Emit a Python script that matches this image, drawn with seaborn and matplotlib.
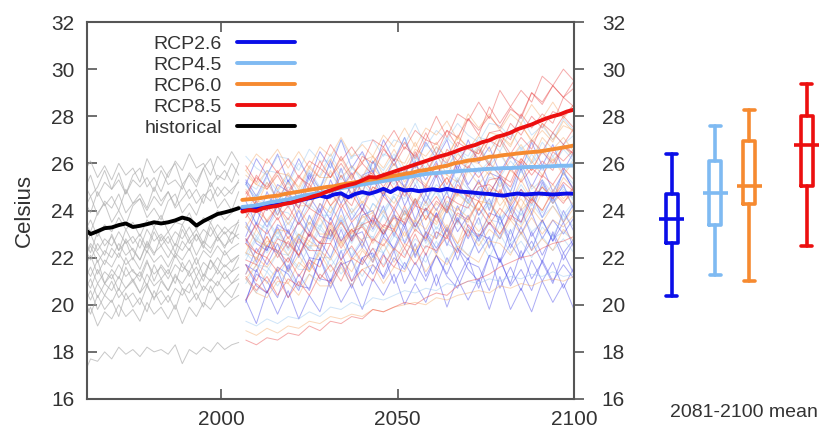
import matplotlib
matplotlib.use("Agg")
import matplotlib.pyplot as plt
from matplotlib.lines import Line2D
import pandas as pd
import seaborn as sns

# ---------------- data ----------------
hist_years = list(range(1961, 2006, 2))      # 23 points
future_years = list(range(2007, 2101, 3))    # 32 points
mean_years = list(range(2006, 2101, 2))      # 48 points

historical_mean = [23.25, 23.0, 23.12, 23.25, 23.28, 23.38, 23.45, 23.3, 23.35, 23.42,
                   23.5, 23.45, 23.5, 23.58, 23.7, 23.62, 23.36, 23.55, 23.7, 23.85,
                   23.92, 24.0, 24.1]

rcp26_mean = [24.07, 24.1, 24.12, 24.18, 24.2, 24.25, 24.3, 24.35, 24.42, 24.49,
              24.55, 24.63, 24.56, 24.68, 24.73, 24.56, 24.7, 24.78, 24.71, 24.8,
              24.92, 24.78, 24.95, 24.85, 24.88, 24.82, 24.86, 24.9, 24.85, 24.92,
              24.85, 24.8, 24.78, 24.75, 24.72, 24.7, 24.66, 24.63, 24.68, 24.72,
              24.68, 24.7, 24.72, 24.7, 24.68, 24.7, 24.72, 24.71]
rcp45_mean = [24.15, 24.18, 24.22, 24.28, 24.35, 24.4, 24.45, 24.5, 24.58, 24.65,
              24.7, 24.75, 24.8, 24.88, 24.95, 25.0, 25.05, 25.1, 25.15, 25.2,
              25.25, 25.3, 25.34, 25.4, 25.45, 25.5, 25.55, 25.58, 25.6, 25.63,
              25.65, 25.68, 25.7, 25.72, 25.75, 25.77, 25.78, 25.8, 25.8, 25.82,
              25.84, 25.85, 25.85, 25.87, 25.88, 25.9, 25.9, 25.91]
rcp60_mean = [24.45, 24.48, 24.5, 24.55, 24.6, 24.63, 24.7, 24.75, 24.8, 24.85,
              24.9, 24.95, 25.0, 25.03, 25.1, 25.15, 25.2, 25.25, 25.3, 25.35,
              25.4, 25.45, 25.5, 25.55, 25.6, 25.68, 25.72, 25.78, 25.85, 25.9,
              26.0, 26.05, 26.12, 26.15, 26.2, 26.28, 26.3, 26.35, 26.38, 26.42,
              26.45, 26.48, 26.5, 26.55, 26.6, 26.65, 26.7, 26.76]
rcp85_mean = [23.95, 24.02, 23.98, 24.1, 24.15, 24.2, 24.28, 24.33, 24.42, 24.5,
              24.6, 24.68, 24.8, 24.9, 25.0, 25.08, 25.15, 25.28, 25.42, 25.4,
              25.5, 25.6, 25.7, 25.8, 25.9, 26.0, 26.1, 26.2, 26.3, 26.38,
              26.48, 26.6, 26.7, 26.78, 26.9, 26.98, 27.12, 27.2, 27.3, 27.45,
              27.55, 27.65, 27.78, 27.9, 28.0, 28.08, 28.2, 28.28]

historical_members = [
    [25.6, 26.1, 25.4, 25.9, 25.3, 26.0, 25.5, 25.8, 25.2, 26.2, 25.6, 25.9, 25.4, 26.1, 25.7, 26.4, 25.8, 26.0, 25.5, 26.3, 25.9, 26.5, 26.0],
    [24.8, 25.5, 24.6, 25.2, 24.9, 25.6, 24.7, 25.3, 25.0, 25.4, 24.8, 25.7, 25.1, 25.3, 24.9, 25.6, 25.2, 25.8, 25.0, 25.5, 25.3, 26.0, 25.5],
    [24.0, 24.6, 23.8, 24.4, 24.1, 24.7, 23.9, 24.3, 24.5, 24.0, 24.6, 24.2, 24.8, 24.1, 24.5, 24.9, 24.3, 24.7, 24.4, 25.0, 24.6, 24.9, 25.2],
    [23.0, 23.6, 22.9, 23.4, 23.1, 23.7, 23.2, 23.5, 22.9, 23.6, 23.3, 23.8, 23.1, 23.5, 23.4, 23.9, 23.2, 23.7, 23.5, 24.0, 23.6, 23.9, 24.2],
    [22.4, 23.0, 22.3, 22.8, 22.5, 23.1, 22.6, 22.9, 22.4, 23.2, 22.7, 23.0, 22.6, 23.1, 22.8, 23.3, 22.7, 23.2, 22.9, 23.4, 23.0, 23.3, 23.5],
    [21.9, 22.5, 21.8, 22.3, 22.0, 22.6, 22.1, 22.4, 21.9, 22.7, 22.2, 22.5, 22.0, 22.6, 22.3, 22.8, 22.1, 22.7, 22.4, 22.9, 22.5, 22.8, 23.0],
    [21.5, 22.1, 21.3, 21.9, 21.6, 22.2, 21.7, 22.0, 21.5, 22.3, 21.8, 22.1, 21.6, 22.2, 21.9, 22.4, 21.7, 22.3, 22.0, 22.5, 22.1, 22.4, 22.6],
    [21.0, 21.6, 20.9, 21.4, 21.1, 21.7, 21.2, 21.5, 21.0, 21.8, 21.3, 21.6, 21.1, 21.7, 21.4, 21.9, 21.2, 21.8, 21.5, 22.0, 21.6, 21.9, 22.1],
    [20.5, 21.1, 20.3, 20.9, 20.6, 21.2, 20.7, 21.0, 20.5, 21.3, 20.8, 21.1, 20.6, 21.2, 20.9, 21.4, 20.7, 21.3, 21.0, 21.5, 21.1, 21.4, 21.6],
    [20.0, 20.6, 19.8, 20.4, 20.1, 20.7, 20.2, 20.5, 20.0, 20.8, 20.3, 20.6, 20.1, 20.7, 20.4, 20.9, 20.2, 20.8, 20.5, 21.0, 20.6, 20.9, 21.1],
    [19.3, 19.9, 19.1, 19.7, 19.4, 20.0, 19.5, 19.8, 19.3, 20.1, 19.6, 19.9, 19.4, 20.0, 19.2, 19.9, 19.5, 20.1, 19.8, 20.3, 19.9, 20.2, 20.4],
    [17.0, 17.7, 17.6, 18.0, 17.7, 18.2, 17.9, 18.1, 17.8, 18.2, 18.0, 18.1, 17.9, 18.3, 17.5, 18.1, 17.9, 18.2, 18.0, 18.4, 18.1, 18.3, 18.4],
    [22.8, 22.2, 23.1, 22.5, 22.9, 22.3, 23.2, 22.6, 23.0, 22.4, 23.3, 22.7, 23.1, 22.5, 23.4, 22.8, 23.2, 22.6, 23.5, 22.9, 23.3, 23.0, 23.6],
    [21.2, 20.7, 21.5, 20.9, 21.3, 20.6, 21.6, 21.0, 21.4, 20.8, 21.7, 21.1, 21.5, 20.9, 21.8, 21.2, 21.6, 21.0, 21.9, 21.3, 21.7, 21.4, 22.0],
    [24.5, 23.9, 24.8, 24.2, 24.6, 24.0, 24.9, 24.3, 24.7, 24.1, 25.0, 24.4, 24.8, 24.2, 25.1, 24.5, 24.9, 24.3, 25.2, 24.6, 25.0, 24.7, 25.3],
    [20.3, 19.6, 20.4, 19.8, 20.2, 19.5, 20.5, 19.9, 20.3, 19.7, 20.6, 20.0, 20.4, 19.8, 20.7, 20.1, 20.5, 19.9, 20.8, 20.2, 20.6, 20.3, 20.9],
    [22.0, 22.6, 22.2, 21.7, 22.4, 22.0, 22.8, 22.3, 21.9, 22.6, 22.1, 22.9, 22.4, 22.0, 22.7, 22.3, 23.0, 22.5, 22.2, 22.9, 22.4, 23.1, 22.8],
    [23.6, 23.1, 23.9, 24.3, 23.5, 24.0, 23.4, 24.2, 24.5, 23.7, 24.1, 23.6, 24.4, 24.7, 23.9, 24.3, 23.8, 24.6, 24.9, 24.1, 24.5, 24.0, 24.8],
    [21.7, 21.2, 21.9, 20.9, 21.5, 21.1, 22.0, 21.4, 21.2, 21.9, 21.0, 21.7, 21.3, 22.1, 21.6, 21.4, 22.0, 21.2, 21.9, 21.5, 22.3, 21.8, 22.1],
    [25.2, 24.6, 25.0, 25.7, 24.9, 25.3, 24.7, 25.5, 25.8, 25.0, 25.4, 24.8, 25.6, 26.0, 25.1, 25.5, 25.0, 25.8, 26.2, 25.3, 25.7, 25.2, 26.0],
    [20.8, 20.2, 20.9, 20.4, 21.0, 20.3, 20.7, 21.1, 20.5, 20.9, 20.2, 21.0, 20.6, 21.3, 20.7, 20.5, 21.2, 20.6, 21.1, 20.8, 21.4, 20.9, 21.3],
    [22.5, 21.9, 22.6, 22.1, 23.0, 22.3, 22.7, 21.9, 22.8, 22.2, 23.1, 22.5, 22.9, 22.2, 23.2, 22.6, 23.0, 22.4, 23.3, 22.7, 23.1, 22.6, 23.4],
]

rcp26_members = [
    [25.1, 26.2, 25.5, 26.4, 25.2, 26.2, 25.3, 26.5, 25.8, 27.0, 25.8, 26.5, 25.6, 27.0, 26.1, 27.1, 25.8, 26.9, 26.2, 27.0, 25.7, 27.0, 26.0, 26.7, 25.6, 26.4, 25.7, 26.9, 25.9, 26.8, 25.7, 26.5],
    [25.2, 24.3, 24.0, 25.1, 24.8, 24.1, 25.5, 24.6, 24.5, 25.8, 24.5, 25.5, 25.7, 24.6, 25.5, 25.0, 26.1, 24.7, 25.6, 24.8, 25.9, 25.0, 24.5, 25.6, 25.4, 24.4, 25.8, 24.6, 25.3, 24.4, 25.7, 24.8],
    [24.4, 23.4, 24.8, 23.8, 24.8, 23.6, 24.6, 23.9, 25.3, 24.3, 25.1, 24.0, 25.3, 24.6, 25.5, 24.2, 25.1, 24.3, 25.5, 24.1, 25.3, 24.4, 25.3, 24.0, 25.4, 24.0, 24.9, 23.9, 25.2, 24.3, 25.1, 24.0],
    [22.9, 24.0, 23.3, 24.2, 23.0, 24.0, 23.1, 24.3, 23.6, 24.8, 23.6, 24.3, 23.4, 24.8, 23.9, 24.9, 23.6, 24.7, 24.0, 24.8, 23.5, 24.8, 23.8, 24.5, 23.4, 24.2, 23.5, 24.7, 23.7, 24.6, 23.5, 24.3],
    [23.5, 22.6, 22.3, 23.4, 23.1, 22.4, 23.8, 22.9, 22.8, 24.1, 22.8, 23.8, 24.0, 22.9, 23.8, 23.3, 24.4, 23.0, 23.9, 23.1, 24.2, 23.3, 22.8, 23.9, 23.7, 22.7, 24.1, 22.9, 23.6, 22.7, 24.0, 23.1],
    [22.8, 21.8, 23.2, 22.2, 23.2, 22.0, 23.0, 22.3, 23.7, 22.7, 23.5, 22.4, 23.7, 23.0, 23.9, 22.6, 23.5, 22.7, 23.9, 22.5, 23.7, 22.8, 23.7, 22.4, 23.8, 22.4, 23.3, 22.3, 23.6, 22.7, 23.5, 22.4],
    [21.3, 22.4, 21.7, 22.6, 21.4, 22.4, 21.5, 22.7, 22.0, 23.2, 22.0, 22.7, 21.8, 23.2, 22.3, 23.3, 22.0, 23.1, 22.4, 23.2, 21.9, 23.2, 22.2, 22.9, 21.8, 22.6, 21.9, 23.1, 22.1, 23.0, 21.9, 22.7],
    [21.7, 20.8, 20.5, 21.6, 21.3, 20.6, 22.0, 21.1, 21.0, 22.3, 21.0, 22.0, 22.2, 21.1, 22.0, 21.5, 22.6, 21.2, 22.1, 21.3, 22.4, 21.5, 21.0, 22.1, 21.9, 20.9, 22.3, 21.1, 21.8, 20.9, 22.2, 21.3],
    [20.2, 19.2, 20.6, 19.6, 20.6, 19.4, 20.4, 19.7, 21.1, 20.1, 20.9, 19.8, 21.1, 20.4, 21.3, 20.0, 20.9, 20.1, 21.3, 19.9, 21.1, 20.2, 21.1, 19.8, 21.2, 19.8, 20.7, 19.7, 21.0, 20.1, 20.9, 19.8],
    [25.3, 24.6, 25.5, 24.3, 25.3, 24.4, 25.6, 24.9, 26.1, 24.9, 25.6, 24.7, 26.1, 25.2, 26.2, 24.9, 26.0, 25.3, 26.1, 24.8, 26.1, 25.1, 25.8, 24.7, 25.5, 24.8, 26.0, 25.0, 25.9, 24.8, 25.6, 24.9],
    [21.7, 21.4, 22.5, 22.2, 21.5, 22.9, 22.0, 21.9, 23.2, 21.9, 22.9, 23.1, 22.0, 22.9, 22.4, 23.5, 22.1, 23.0, 22.2, 23.3, 22.4, 21.9, 23.0, 22.8, 21.8, 23.2, 22.0, 22.7, 21.8, 23.1, 22.2, 22.8],
    [20.1, 21.5, 20.5, 21.5, 20.3, 21.3, 20.6, 22.0, 21.0, 21.8, 20.7, 22.0, 21.3, 22.2, 20.9, 21.8, 21.0, 22.2, 20.8, 22.0, 21.1, 22.0, 20.7, 22.1, 20.7, 21.6, 20.6, 21.9, 21.0, 21.8, 20.7, 21.6],
    [22.6, 23.5, 22.3, 23.3, 22.4, 23.6, 22.9, 24.1, 22.9, 23.6, 22.7, 24.1, 23.2, 24.2, 22.9, 24.0, 23.3, 24.1, 22.8, 24.1, 23.1, 23.8, 22.7, 23.5, 22.8, 24.0, 23.0, 23.9, 22.8, 23.6, 23.0, 23.7],
    [20.2, 21.3, 21.0, 20.3, 21.7, 20.8, 20.7, 22.0, 20.7, 21.7, 21.9, 20.8, 21.7, 21.2, 22.3, 20.9, 21.8, 21.0, 22.1, 21.2, 20.7, 21.8, 21.6, 20.6, 22.0, 20.8, 21.5, 20.6, 21.9, 21.0, 21.7, 21.1],
]

rcp45_members = [
    [26.3, 25.8, 25.5, 26.3, 26.2, 25.7, 26.6, 26.1, 26.1, 27.0, 26.2, 26.9, 27.0, 26.3, 27.0, 26.8, 27.7, 26.7, 27.4, 27.0, 27.7, 27.2, 26.9, 27.7, 27.6, 27.1, 28.0, 27.2, 27.6, 27.0, 27.9, 27.4],
    [25.1, 24.5, 25.4, 24.8, 25.5, 24.7, 25.3, 25.0, 26.0, 25.3, 25.9, 25.2, 26.1, 25.7, 26.4, 25.6, 26.3, 25.8, 26.7, 25.8, 26.6, 26.1, 26.8, 26.0, 27.0, 26.2, 26.7, 26.0, 26.9, 26.3, 26.8, 26.2],
    [23.9, 24.7, 24.2, 24.9, 24.1, 24.8, 24.1, 25.0, 24.6, 25.5, 24.7, 25.2, 24.6, 25.6, 25.1, 25.9, 25.1, 25.8, 25.5, 26.1, 25.2, 26.2, 25.6, 26.1, 25.4, 26.1, 25.6, 26.4, 25.7, 26.3, 25.6, 26.2],
    [24.0, 23.5, 23.2, 24.0, 23.9, 23.4, 24.3, 23.8, 23.8, 24.7, 23.9, 24.6, 24.7, 24.0, 24.7, 24.5, 25.4, 24.4, 25.1, 24.7, 25.4, 24.9, 24.6, 25.4, 25.3, 24.8, 25.7, 24.9, 25.3, 24.7, 25.6, 25.1],
    [23.3, 22.7, 23.6, 23.0, 23.7, 22.9, 23.5, 23.2, 24.2, 23.5, 24.1, 23.4, 24.3, 23.9, 24.6, 23.8, 24.5, 24.0, 24.9, 24.0, 24.8, 24.3, 25.0, 24.2, 25.2, 24.4, 24.9, 24.2, 25.1, 24.5, 25.0, 24.4],
    [22.1, 22.9, 22.4, 23.1, 22.3, 23.0, 22.3, 23.2, 22.8, 23.7, 22.9, 23.4, 22.8, 23.8, 23.3, 24.1, 23.3, 24.0, 23.7, 24.3, 23.4, 24.4, 23.8, 24.3, 23.6, 24.3, 23.8, 24.6, 23.9, 24.5, 23.8, 24.4],
    [22.2, 21.7, 21.4, 22.2, 22.1, 21.6, 22.5, 22.0, 22.0, 22.9, 22.1, 22.8, 22.9, 22.2, 22.9, 22.7, 23.6, 22.6, 23.3, 22.9, 23.6, 23.1, 22.8, 23.6, 23.5, 23.0, 23.9, 23.1, 23.5, 22.9, 23.8, 23.3],
    [21.1, 20.5, 21.4, 20.8, 21.5, 20.7, 21.3, 21.0, 22.0, 21.3, 21.9, 21.2, 22.1, 21.7, 22.4, 21.6, 22.3, 21.8, 22.7, 21.8, 22.6, 22.1, 22.8, 22.0, 23.0, 22.2, 22.7, 22.0, 22.9, 22.3, 22.8, 22.2],
    [19.3, 19.1, 19.4, 19.2, 19.5, 19.4, 19.7, 19.5, 19.9, 19.8, 20.1, 19.9, 20.3, 20.2, 20.4, 20.6, 20.5, 20.7, 20.6, 20.9, 20.8, 21.0, 20.9, 21.1, 21.0, 21.2, 21.1, 21.3, 21.2, 21.4, 21.2, 21.3],
    [25.2, 24.9, 25.7, 25.6, 25.1, 26.0, 25.5, 25.5, 26.4, 25.6, 26.3, 26.4, 25.7, 26.4, 26.2, 27.1, 26.1, 26.8, 26.4, 27.1, 26.6, 26.3, 27.1, 27.0, 26.5, 27.4, 26.6, 27.0, 26.4, 27.3, 26.8, 27.2],
    [21.9, 22.8, 22.2, 22.9, 22.1, 22.7, 22.4, 23.4, 22.7, 23.3, 22.6, 23.5, 23.1, 23.8, 23.0, 23.7, 23.2, 24.1, 23.2, 24.0, 23.5, 24.2, 23.4, 24.4, 23.6, 24.1, 23.4, 24.3, 23.7, 24.2, 23.6, 24.3],
    [23.4, 22.9, 23.6, 22.8, 23.5, 22.8, 23.7, 23.3, 24.2, 23.4, 23.9, 23.3, 24.3, 23.8, 24.6, 23.8, 24.5, 24.2, 24.8, 23.9, 24.9, 24.3, 24.8, 24.1, 24.8, 24.3, 25.1, 24.4, 25.0, 24.3, 24.9, 24.5],
    [20.9, 21.7, 21.6, 21.1, 22.0, 21.5, 21.5, 22.4, 21.6, 22.3, 22.4, 21.7, 22.4, 22.2, 23.1, 22.1, 22.8, 22.4, 23.1, 22.6, 22.3, 23.1, 23.0, 22.5, 23.4, 22.6, 23.0, 22.4, 23.3, 22.8, 23.1, 22.7],
    [25.1, 24.5, 25.2, 24.4, 25.0, 24.7, 25.7, 25.0, 25.6, 24.9, 25.8, 25.4, 26.1, 25.3, 26.0, 25.5, 26.4, 25.5, 26.3, 25.8, 26.5, 25.7, 26.7, 25.9, 26.4, 25.7, 26.6, 26.0, 26.5, 25.9, 26.6, 26.1],
]

rcp60_members = [
    [25.7, 26.4, 26.0, 26.6, 25.8, 26.5, 25.8, 26.7, 26.3, 27.1, 26.3, 26.8, 26.3, 27.2, 26.7, 27.5, 26.7, 27.5, 27.2, 27.8, 27.0, 28.1, 27.5, 28.1, 27.4, 28.1, 27.7, 28.5, 27.9, 28.6, 27.9, 28.5],
    [25.7, 25.1, 24.9, 25.6, 25.5, 25.0, 25.9, 25.4, 25.4, 26.2, 25.4, 26.1, 26.3, 25.5, 26.2, 26.0, 26.9, 26.0, 26.7, 26.3, 27.1, 26.7, 26.4, 27.3, 27.2, 26.7, 27.7, 26.9, 27.4, 26.9, 27.8, 27.3],
    [24.9, 24.2, 25.2, 24.5, 25.2, 24.4, 25.0, 24.7, 25.7, 24.9, 25.5, 24.8, 25.8, 25.3, 26.0, 25.2, 25.9, 25.5, 26.4, 25.5, 26.4, 26.0, 26.7, 26.0, 27.0, 26.2, 26.8, 26.1, 27.1, 26.6, 27.1, 26.5],
    [23.3, 24.0, 23.6, 24.2, 23.4, 24.1, 23.4, 24.3, 23.9, 24.7, 23.9, 24.4, 23.9, 24.8, 24.3, 25.1, 24.3, 25.1, 24.8, 25.4, 24.6, 25.7, 25.1, 25.7, 25.0, 25.7, 25.3, 26.1, 25.5, 26.2, 25.5, 26.1],
    [23.3, 22.7, 22.5, 23.2, 23.1, 22.6, 23.5, 23.0, 23.0, 23.8, 23.0, 23.7, 23.9, 23.1, 23.8, 23.6, 24.5, 23.6, 24.3, 23.9, 24.7, 24.3, 24.0, 24.9, 24.8, 24.3, 25.3, 24.5, 25.0, 24.5, 25.4, 24.9],
    [22.6, 21.9, 22.9, 22.2, 22.9, 22.1, 22.7, 22.4, 23.4, 22.6, 23.2, 22.5, 23.5, 23.0, 23.7, 22.9, 23.6, 23.2, 24.1, 23.2, 24.1, 23.7, 24.4, 23.7, 24.7, 23.9, 24.5, 23.8, 24.8, 24.3, 24.8, 24.2],
    [21.3, 22.0, 21.6, 22.2, 21.4, 22.1, 21.4, 22.3, 21.9, 22.7, 21.9, 22.4, 21.9, 22.8, 22.3, 23.1, 22.3, 23.1, 22.8, 23.4, 22.6, 23.7, 23.1, 23.7, 23.0, 23.7, 23.3, 24.1, 23.5, 24.2, 23.5, 24.1],
    [21.1, 20.5, 20.3, 21.0, 20.9, 20.4, 21.3, 20.8, 20.8, 21.6, 20.8, 21.5, 21.7, 20.9, 21.6, 21.4, 22.3, 21.4, 22.1, 21.7, 22.5, 22.1, 21.8, 22.7, 22.6, 22.1, 23.1, 22.3, 22.8, 22.3, 23.2, 22.7],
    [18.9, 18.7, 19.0, 18.8, 19.1, 19.0, 19.3, 19.2, 19.5, 19.4, 19.6, 19.5, 19.8, 19.7, 19.9, 20.0, 20.1, 20.0, 20.3, 20.2, 20.4, 20.5, 20.6, 20.5, 20.8, 20.7, 20.9, 20.8, 21.0, 21.1, 21.0, 21.2],
    [25.5, 25.1, 25.7, 24.9, 25.6, 24.9, 25.8, 25.4, 26.2, 25.4, 25.9, 25.4, 26.3, 25.8, 26.6, 25.8, 26.6, 26.3, 26.9, 26.1, 27.2, 26.6, 27.2, 26.5, 27.2, 26.8, 27.6, 27.0, 27.7, 27.0, 27.6, 27.4],
    [22.2, 22.0, 22.7, 22.6, 22.1, 23.0, 22.5, 22.5, 23.3, 22.5, 23.2, 23.4, 22.6, 23.3, 23.1, 24.0, 23.1, 23.8, 23.4, 24.2, 23.8, 23.5, 24.4, 24.3, 23.8, 24.8, 24.0, 24.5, 24.0, 24.9, 24.4, 24.7],
    [22.2, 23.2, 22.5, 23.2, 22.4, 23.0, 22.7, 23.7, 22.9, 23.5, 22.8, 23.8, 23.3, 24.0, 23.2, 23.9, 23.5, 24.4, 23.5, 24.4, 24.0, 24.7, 24.0, 25.0, 24.2, 24.8, 24.1, 25.1, 24.6, 25.1, 24.5, 25.0],
    [21.1, 21.7, 20.9, 21.6, 20.9, 21.8, 21.4, 22.2, 21.4, 21.9, 21.4, 22.3, 21.8, 22.6, 21.8, 22.6, 22.3, 22.9, 22.1, 23.2, 22.6, 23.2, 22.5, 23.2, 22.8, 23.6, 23.0, 23.7, 23.0, 23.6, 23.3, 23.8],
    [23.7, 24.4, 24.3, 23.8, 24.7, 24.2, 24.2, 25.0, 24.2, 24.9, 25.1, 24.3, 25.0, 24.8, 25.7, 24.8, 25.5, 25.1, 25.9, 25.5, 25.2, 26.1, 26.0, 25.5, 26.5, 25.7, 26.2, 25.7, 26.6, 26.1, 26.7, 26.3],
]

rcp85_members = [
    [25.9, 25.2, 26.2, 25.6, 26.2, 25.4, 26.1, 25.8, 26.8, 26.1, 26.7, 26.0, 27.0, 26.7, 27.4, 26.6, 27.4, 27.0, 28.0, 27.1, 28.1, 27.8, 28.6, 27.9, 29.1, 28.4, 29.1, 28.6, 29.7, 29.3, 30.0, 29.5],
    [24.7, 25.4, 25.0, 25.7, 24.8, 25.5, 24.9, 25.8, 25.4, 26.3, 25.5, 26.0, 25.5, 26.6, 26.1, 26.9, 26.2, 27.0, 26.8, 27.4, 26.7, 27.9, 27.4, 28.0, 27.5, 28.3, 28.0, 29.0, 28.5, 29.3, 28.8, 29.5],
    [24.8, 24.2, 24.0, 24.8, 24.6, 24.1, 25.1, 24.6, 24.6, 25.5, 24.7, 25.4, 25.6, 25.0, 25.7, 25.5, 26.5, 25.6, 26.4, 26.0, 26.9, 26.6, 26.4, 27.3, 27.4, 27.0, 28.1, 27.5, 28.1, 27.7, 28.8, 28.4],
    [23.9, 23.2, 24.2, 23.6, 24.2, 23.4, 24.1, 23.8, 24.8, 24.1, 24.7, 24.0, 25.0, 24.7, 25.4, 24.6, 25.4, 25.0, 26.0, 25.1, 26.1, 25.8, 26.6, 25.9, 27.1, 26.4, 27.1, 26.6, 27.7, 27.3, 28.0, 27.5],
    [22.7, 23.4, 23.0, 23.7, 22.8, 23.5, 22.9, 23.8, 23.4, 24.3, 23.5, 24.0, 23.5, 24.6, 24.1, 24.9, 24.2, 25.0, 24.8, 25.4, 24.7, 25.9, 25.4, 26.0, 25.5, 26.3, 26.0, 27.0, 26.5, 27.3, 26.8, 27.5],
    [22.8, 22.2, 22.0, 22.8, 22.6, 22.1, 23.1, 22.6, 22.6, 23.5, 22.7, 23.4, 23.6, 23.0, 23.7, 23.5, 24.5, 23.6, 24.4, 24.0, 24.9, 24.6, 24.4, 25.3, 25.4, 25.0, 26.1, 25.5, 26.1, 25.7, 26.8, 26.4],
    [21.7, 21.0, 22.0, 21.4, 22.0, 21.2, 21.9, 21.6, 22.6, 21.9, 22.5, 21.8, 22.8, 22.5, 23.2, 22.4, 23.2, 22.8, 23.8, 22.9, 23.9, 23.6, 24.4, 23.7, 24.9, 24.2, 24.9, 24.4, 25.5, 25.1, 25.8, 25.3],
    [20.2, 20.9, 20.5, 21.2, 20.3, 21.0, 20.4, 21.3, 20.9, 21.8, 21.0, 21.5, 21.0, 22.1, 21.6, 22.4, 21.7, 22.5, 22.3, 22.9, 22.2, 23.4, 22.9, 23.5, 23.0, 23.8, 23.5, 24.5, 24.0, 24.8, 24.3, 25.0],
    [18.5, 18.3, 18.6, 18.5, 18.8, 18.7, 19.1, 18.9, 19.3, 19.2, 19.5, 19.4, 19.8, 19.7, 19.9, 20.1, 20.0, 20.3, 20.5, 20.4, 20.8, 21.0, 21.1, 21.3, 21.6, 21.8, 22.0, 22.1, 22.4, 22.6, 22.7, 22.9],
    [24.5, 25.5, 24.9, 25.5, 24.7, 25.4, 25.1, 26.1, 25.4, 26.0, 25.3, 26.3, 26.0, 26.7, 25.9, 26.7, 26.3, 27.3, 26.4, 27.4, 27.1, 27.9, 27.2, 28.4, 27.7, 28.4, 27.9, 29.0, 28.6, 29.3, 28.8, 29.2],
    [22.6, 22.2, 22.9, 22.0, 22.7, 22.1, 23.0, 22.6, 23.5, 22.7, 23.2, 22.7, 23.8, 23.3, 24.1, 23.4, 24.2, 24.0, 24.6, 23.9, 25.1, 24.6, 25.2, 24.7, 25.5, 25.2, 26.2, 25.7, 26.5, 26.0, 26.7, 26.4],
    [21.9, 21.7, 22.5, 22.3, 21.8, 22.8, 22.3, 22.3, 23.2, 22.4, 23.1, 23.3, 22.7, 23.4, 23.2, 24.2, 23.3, 24.1, 23.7, 24.6, 24.3, 24.1, 25.0, 25.1, 24.7, 25.8, 25.2, 25.8, 25.4, 26.5, 26.1, 26.6],
    [21.2, 20.6, 21.2, 20.4, 21.1, 20.8, 21.8, 21.1, 21.7, 21.0, 22.0, 21.7, 22.4, 21.6, 22.4, 22.0, 23.0, 22.1, 23.1, 22.8, 23.6, 22.9, 24.1, 23.4, 24.1, 23.6, 24.7, 24.3, 25.0, 24.5, 25.2, 24.8],
    [23.7, 24.4, 23.5, 24.2, 23.6, 24.5, 24.1, 25.0, 24.2, 24.7, 24.2, 25.3, 24.8, 25.6, 24.9, 25.7, 25.5, 26.1, 25.4, 26.6, 26.1, 26.7, 26.2, 27.0, 26.7, 27.7, 27.2, 28.0, 27.5, 28.2, 28.0, 28.5],
]

scenarios = ["RCP2.6", "RCP4.5", "RCP6.0", "RCP8.5"]
box_whislo = [20.38, 21.26, 21.00, 22.48]
box_q1 = [22.62, 23.40, 24.28, 25.06]
box_med = [23.64, 24.75, 25.02, 26.76]
box_q3 = [24.71, 26.09, 26.97, 27.99]
box_whishi = [26.41, 27.57, 28.28, 29.38]

# ---------------- styling ----------------
mean_colors = {"RCP2.6": "#0a0ee8", "RCP4.5": "#7fbaf2", "RCP6.0": "#f68a30",
               "RCP8.5": "#ec0f0f", "historical": "#000000"}
member_colors = {"RCP2.6": "#3a3ae8", "RCP4.5": "#8cc0f0", "RCP6.0": "#f5a05a",
                 "RCP8.5": "#e83838"}
text_color = "#333333"
spine_color = "#555555"

sns.set_theme(style="white")
plt.rcParams["font.family"] = ["Liberation Sans", "DejaVu Sans"]
plt.rcParams["text.color"] = text_color

# ---------------- long-form tables ----------------
hist_rows = []
for m, vals in enumerate(historical_members):
    assert len(vals) == len(hist_years), ("hist", m)
    for y, v in zip(hist_years, vals):
        hist_rows.append({"member": f"h{m}", "year": y, "value": v})
hist_df = pd.DataFrame(hist_rows)

member_sets = {"RCP2.6": rcp26_members, "RCP4.5": rcp45_members,
               "RCP6.0": rcp60_members, "RCP8.5": rcp85_members}
fut_rows = []
for sc, members in member_sets.items():
    for m, vals in enumerate(members):
        assert len(vals) == len(future_years), (sc, m)
        for y, v in zip(future_years, vals):
            fut_rows.append({"scenario": sc, "member": f"{sc}_{m}", "year": y, "value": v})
fut_df = pd.DataFrame(fut_rows)

mean_sets = {"RCP2.6": rcp26_mean, "RCP4.5": rcp45_mean,
             "RCP6.0": rcp60_mean, "RCP8.5": rcp85_mean}
mean_rows = []
for sc, vals in mean_sets.items():
    assert len(vals) == len(mean_years), sc
    for y, v in zip(mean_years, vals):
        mean_rows.append({"scenario": sc, "year": y, "value": v})
mean_df = pd.DataFrame(mean_rows)
hist_mean_df = pd.DataFrame({"year": hist_years, "value": historical_mean})

# ---------------- figure ----------------
W, H = 826, 430
fig = plt.figure(figsize=(W / 100, H / 100), dpi=100)
L, R, T, B = 87, 574, 22, 399
ax = fig.add_axes([L / W, (H - B) / H, (R - L) / W, (B - T) / H])

sns.lineplot(data=hist_df, x="year", y="value", units="member", estimator=None,
             color="#b0b0b0", lw=0.7, alpha=0.7, ax=ax, legend=False)
sns.lineplot(data=fut_df, x="year", y="value", hue="scenario", units="member",
             estimator=None, palette=member_colors, hue_order=scenarios,
             lw=0.7, alpha=0.42, ax=ax, legend=False)
sns.lineplot(data=mean_df, x="year", y="value", hue="scenario", hue_order=scenarios,
             palette=mean_colors, lw=2.8, ax=ax, legend=False)
sns.lineplot(data=hist_mean_df, x="year", y="value", color="black", lw=2.8,
             ax=ax, legend=False)

ax.set_xlim(1962, 2100)
ax.set_ylim(16, 32)
ax.set_xticks([2000, 2050, 2100])
ax.set_yticks(list(range(16, 33, 2)))
ax.set_xlabel("")
ax.set_ylabel("Celsius", fontsize=16, color=text_color, labelpad=12)
for s in ax.spines.values():
    s.set_color(spine_color)
    s.set_linewidth(1.5)
ax.tick_params(axis="x", direction="in", top=True, bottom=True, length=7,
               width=1.2, color=spine_color, labelsize=15, labelcolor=text_color, pad=8)
ax.tick_params(axis="y", direction="in", left=True, right=False, length=7,
               width=1.2, color=spine_color, labelsize=15, labelcolor=text_color, pad=9)

axr = ax.twinx()
axr.set_ylim(16, 32)
axr.set_yticks(list(range(16, 33, 2)))
for s in axr.spines.values():
    s.set_visible(False)
axr.tick_params(axis="y", direction="out", right=True, length=7, width=1.2,
                color=spine_color, labelsize=15, labelcolor=text_color, pad=13)

handles = [Line2D([], [], color=mean_colors[k], lw=2.8) for k in scenarios + ["historical"]]
ax.legend(handles, scenarios + ["historical"], markerfirst=False, frameon=False,
          loc="upper right", bbox_to_anchor=(0.427, 0.965), fontsize=14,
          handlelength=3.0, handletextpad=0.75, labelspacing=0.18,
          borderpad=0, borderaxespad=0)

# ---------------- box panel ----------------
axb = fig.add_axes([R / W, (H - B) / H, (W - R) / W, (B - T) / H])
axb.set_xlim(0, W - R)
axb.set_ylim(16, 32)
axb.axis("off")
box_positions = [97.7, 141, 175, 232.7]
stats = [dict(label=sc, whislo=lo, q1=q1, med=md, q3=q3, whishi=hi)
         for sc, lo, q1, md, q3, hi in zip(scenarios, box_whislo, box_q1, box_med, box_q3, box_whishi)]
for st, pos in zip(stats, box_positions):
    c = mean_colors[st["label"]]
    axb.bxp([st], positions=[pos], widths=12, capwidths=11, showfliers=False,
            manage_ticks=False,
            boxprops=dict(color=c, lw=2.6),
            whiskerprops=dict(color=c, lw=2.6),
            capprops=dict(color=c, lw=2.6),
            medianprops=dict(color=c, lw=0))
    axb.hlines(st["med"], pos - 12.5, pos + 12.5, color=c, lw=2.6)
axb.text(0.675, -0.035, "2081-2100 mean", transform=axb.transAxes, ha="center",
         va="center", fontsize=14, color=text_color)

fig.savefig("out.png", dpi=100)
